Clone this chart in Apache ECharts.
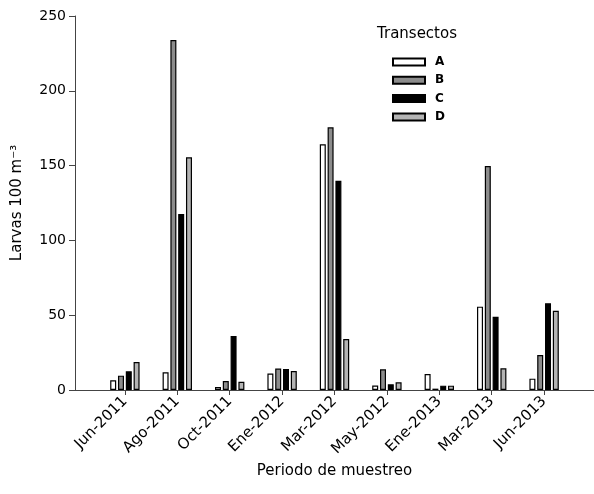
<!DOCTYPE html>
<html>
<head>
<meta charset="utf-8">
<script src="https://cdn.jsdelivr.net/npm/echarts@6/dist/echarts.min.js"></script>
<style>html,body{margin:0;padding:0;background:#fff}#c{width:594px;height:494px}</style>
</head>
<body>
<div id="c"></div>
<script>
const categories = ['Jun-2011','Ago-2011','Oct-2011','Ene-2012','Mar-2012','May-2012','Ene-2013','Mar-2013','Jun-2013'];
const seriesNames = ['A','B','C','D'];
const valuesA = [6.5, 11.8, 2, 11, 164.2, 3, 10.7, 55.7, 7.6];
const valuesB = [9.6, 234, 6, 14.3, 175.6, 13.8, 0.9, 149.7, 23.4];
const valuesC = [12.5, 117.6, 36.1, 14, 139.9, 3.8, 2.9, 49, 58];
const valuesD = [18.7, 155.5, 5.5, 12.7, 34.1, 5.1, 2.9, 14.5, 53];
const yTicks = [0, 50, 100, 150, 200, 250];

const FONT = 'DejaVu Sans';
const fills = ['#ffffff', '#8c8c8c', '#000000', '#b4b4b4'];
const allValues = [valuesA, valuesB, valuesC, valuesD];
const positions = categories.map((c, i) => i + 1);

const chart = echarts.init(document.getElementById('c'), null, {renderer: 'canvas'});
const series = seriesNames.map((n, k) => ({
  name: n,
  type: 'bar',
  barWidth: 6,
  barGap: '30%',
  itemStyle: {color: fills[k], borderColor: '#000', borderWidth: 1.2},
  data: allValues[k].map((v, i) => [positions[i], v])
}));

chart.setOption({
  animation: false,
  title: {
    text: 'Transectos', left: 372, top: 22,
    textStyle: {fontFamily: FONT, fontSize: 15, fontWeight: 'normal', color: '#000'}
  },
  legend: {
    orient: 'vertical', left: 387, top: 51,
    itemWidth: 32, itemHeight: 7, itemGap: 6.3,
    icon: 'rect',
    textStyle: {fontFamily: FONT, fontSize: 12, fontWeight: 'bold', color: '#000', padding: [0, 0, 0, 5]},
    data: seriesNames
  },
  grid: {left: 75, right: 0, top: 16, bottom: 104, containLabel: false},
  xAxis: {
    type: 'value', min: 0.048, max: 9.952,
    splitLine: {show: false},
    axisLine: {show: true, onZero: false, lineStyle: {color: '#444', width: 1}},
    axisTick: {show: true, customValues: positions, length: 5, lineStyle: {color: '#444'}},
    axisLabel: {
      customValues: positions, rotate: 45, margin: 9,
      fontFamily: FONT, fontSize: 15, color: '#000',
      formatter: v => categories[Math.round(v) - 1] || ''
    },
    name: 'Periodo de muestreo', nameLocation: 'middle', nameGap: 73,
    nameTextStyle: {fontFamily: FONT, fontSize: 15, color: '#000'}
  },
  yAxis: {
    type: 'value', min: 0, max: 250, interval: 50,
    splitLine: {show: false},
    axisLine: {show: true, lineStyle: {color: '#444', width: 1}},
    axisTick: {show: true, length: 6, lineStyle: {color: '#444'}},
    axisLabel: {fontFamily: FONT, fontSize: 14, color: '#000', margin: 9,
      formatter: v => yTicks.includes(v) ? String(v) : ''},
    name: 'Larvas 100 m⁻³', nameLocation: 'middle', nameGap: 50, nameRotate: 90,
    nameTextStyle: {fontFamily: FONT, fontSize: 15, color: '#000'}
  },
  series: series
});
</script>
</body>
</html>
